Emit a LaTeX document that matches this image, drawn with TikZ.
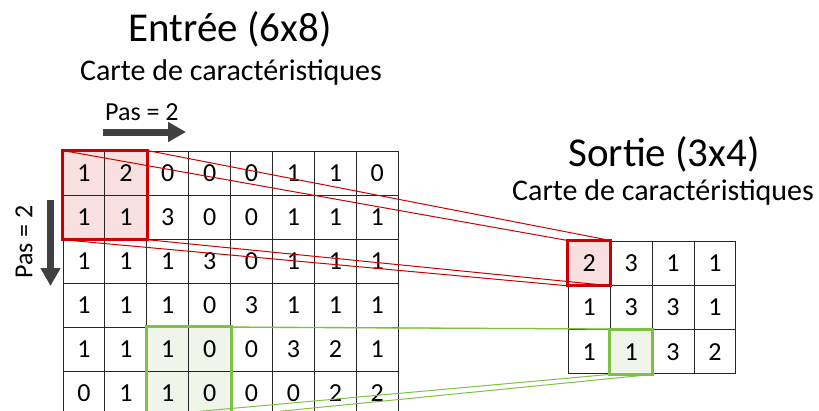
\documentclass[tikz,border=0pt]{standalone}
\usepackage{fontspec}
\setmainfont{Carlito}
\usetikzlibrary{arrows.meta,positioning,fit,backgrounds}
\definecolor{redline}{RGB}{204,0,0}
\definecolor{redbg}{RGB}{248,224,224}
\definecolor{greenline}{RGB}{125,194,66}
\definecolor{greenbg}{RGB}{239,245,232}
\definecolor{arrowgray}{RGB}{64,64,64}

\begin{document}
\begin{tikzpicture}[
  x=1pt,y=-1pt,
  cell/.style={rectangle,draw=black!85,line width=1pt,minimum width=41.9pt,minimum height=44.1pt,inner sep=0pt,font=\fontsize{26}{26}\selectfont},
  window/.style={rectangle,draw=#1line,line width=3pt,inner sep=0pt},
  winfill/.style={rectangle,fill=#1bg,inner sep=0pt},
  link/.style={draw=#1line,line width=1pt},
  title/.style={inner sep=0pt,anchor=base,font=\fontsize{41}{41}\selectfont},
  subtitle/.style={inner sep=0pt,anchor=base,font=\fontsize{30}{30}\selectfont},
  pas/.style={inner sep=0pt,font=\fontsize{26}{26}\selectfont},
  steparrow/.style={draw=arrowgray,line width=7pt,-{Triangle[length=18pt,width=19pt]}}
]
\useasboundingbox (0,0) rectangle (819,410);
\clip (0,0) rectangle (819,410);

\node[title] (tin) at (230,41) {Entrée (6x8)};
\node[subtitle] (sin) at (231,80) {Carte de caractéristiques};
\node[title] (tout) at (664,166) {Sortie (3x4)};
\node[subtitle] (sout) at (663,200) {Carte de caractéristiques};

\node[pas,anchor=base west] (pash) at (105,120) {Pas = 2};
\coordinate (h0) at (103,132);
\coordinate (h1) at (186,132);
\draw[steparrow] (h0) -- (h1);
\node[pas,rotate=90] (pasv) at (24,242) {Pas = 2};
\coordinate (v0) at (50.5,200);
\coordinate (v1) at (50.5,286);
\draw[steparrow] (v0) -- (v1);

\foreach \row [count=\r] in {{1,2,0,0,0,1,1,0},{1,1,3,0,0,1,1,1},{1,1,1,3,0,1,1,1},
    {1,1,1,0,3,1,1,1},{1,1,1,0,0,3,2,1},{0,1,1,0,0,0,2,2}}{
  \foreach \v [count=\c] in \row
    \node[cell] (in-\r-\c) at ({63+41.9*(\c-0.5)},{151+44.1*(\r-0.5)}) {\v};
}
\foreach \row [count=\r] in {{2,3,1,1},{1,3,3,1},{1,1,3,2}}{
  \foreach \v [count=\c] in \row
    \node[cell,minimum height=44.3pt] (out-\r-\c) at ({568.3+41.9*(\c-0.5)},{241+44.3*(\r-0.5)}) {\v};
}

\begin{scope}[on background layer]
  \node[winfill=red,fit=(in-1-1)(in-2-2)] {};
  \node[winfill=green,fit=(in-5-3)(in-6-4)] {};
  \node[winfill=red,fit=(out-1-1)] {};
  \node[winfill=green,fit=(out-3-2)] {};
\end{scope}

\draw[link=red] (in-1-1.north west) -- (out-1-1.north west);
\draw[link=red] (in-1-2.north east) -- (out-1-1.north east);
\draw[link=red] (in-2-1.south west) -- (out-1-1.south west);
\draw[link=red] (in-2-2.south east) -- (out-1-1.south east);
\draw[link=green] (in-5-3.north west) -- (out-3-2.north west);
\draw[link=green] (in-5-4.north east) -- (out-3-2.north east);
\draw[link=green] (in-6-3.south west) -- (out-3-2.south west);
\draw[link=green] (in-6-4.south east) -- (out-3-2.south east);

\node[window=red,fit=(in-1-1)(in-2-2)] (winr) {};
\node[window=green,fit=(in-5-3)(in-6-4)] (wing) {};
\node[window=red,fit=(out-1-1)] (outr) {};
\node[window=green,fit=(out-3-2)] (outg) {};
\end{tikzpicture}
\end{document}
